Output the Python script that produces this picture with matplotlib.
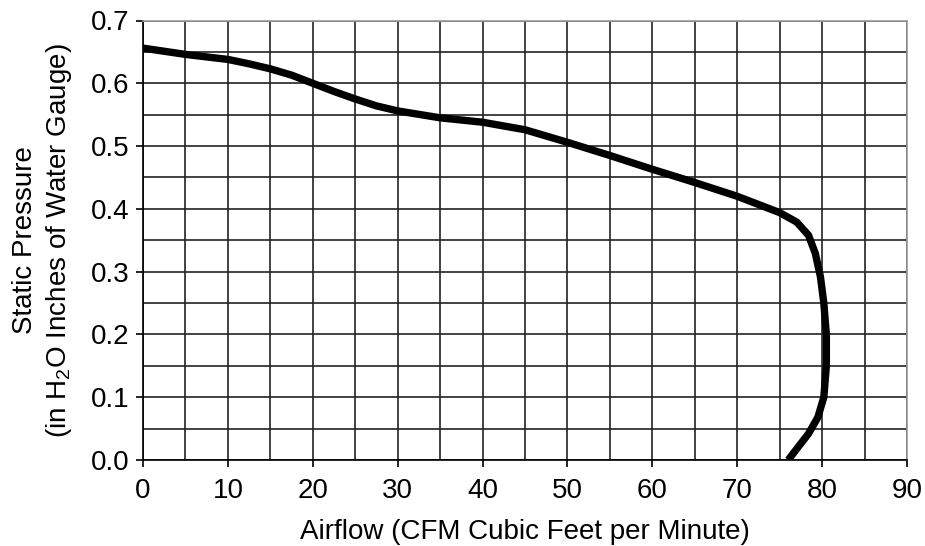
import numpy as np
import matplotlib
matplotlib.use("Agg")
import matplotlib.pyplot as plt
from matplotlib.ticker import MultipleLocator

plt.rcParams['font.family'] = ['Liberation Sans', 'DejaVu Sans']
plt.rcParams['mathtext.fontset'] = 'custom'
plt.rcParams['mathtext.rm'] = 'Liberation Sans'

# fan curve
airflow = [0, 5, 10, 12.5, 15, 17.5, 20, 22.5, 25, 27.5, 30, 35, 40, 45, 50, 55,
           60, 65, 70, 75, 77.0, 78.4, 79.2, 79.8, 80.2, 80.5, 80.5, 80.2, 79.5,
           78.4, 77.2, 76.0]
pressure = [0.656, 0.646, 0.638, 0.631, 0.623, 0.613, 0.600, 0.587, 0.575, 0.564,
            0.556, 0.545, 0.538, 0.526, 0.506, 0.485, 0.463, 0.442, 0.420, 0.394,
            0.379, 0.358, 0.329, 0.292, 0.250, 0.200, 0.150, 0.100, 0.068, 0.042,
            0.021, 0.0]

x_ticks = [0, 10, 20, 30, 40, 50, 60, 70, 80, 90]
y_ticks = [0.0, 0.1, 0.2, 0.3, 0.4, 0.5, 0.6, 0.7]

fig = plt.figure(figsize=(9.25, 5.46), dpi=100)
ax = fig.add_axes([143 / 925, 1 - 460 / 546, (907 - 143) / 925, (460 - 20.5) / 546])

ax.plot(airflow, pressure, color='black', lw=5.3, solid_joinstyle='round',
        solid_capstyle='butt', zorder=3)

ax.set_xlim(0, 90)
ax.set_ylim(0, 0.7)
ax.set_xticks(x_ticks)
ax.set_yticks(y_ticks)
ax.set_yticklabels([f'{v:.1f}' for v in y_ticks])
ax.xaxis.set_minor_locator(MultipleLocator(5))
ax.yaxis.set_minor_locator(MultipleLocator(0.05))
ax.grid(which='both', color='#222222', lw=1.2)
ax.set_axisbelow(True)
ax.tick_params(which='major', direction='out', length=5, width=1.2, labelsize=20, pad=5)
ax.tick_params(axis='x', pad=8)
ax.tick_params(which='minor', length=0)

for s in ['top', 'right']:
    ax.spines[s].set_color('#999999')
    ax.spines[s].set_linewidth(1.2)
for s in ['left', 'bottom']:
    ax.spines[s].set_color('black')
    ax.spines[s].set_linewidth(1.2)

ax.set_xlabel('Airflow (CFM Cubic Feet per Minute)', fontsize=20, labelpad=11)
ax.set_ylabel('Static Pressure\n(in H$_\\mathregular{2}$O Inches of Water Gauge)',
              fontsize=20, labelpad=12, linespacing=1.25)

fig.savefig('out.png', dpi=100)
